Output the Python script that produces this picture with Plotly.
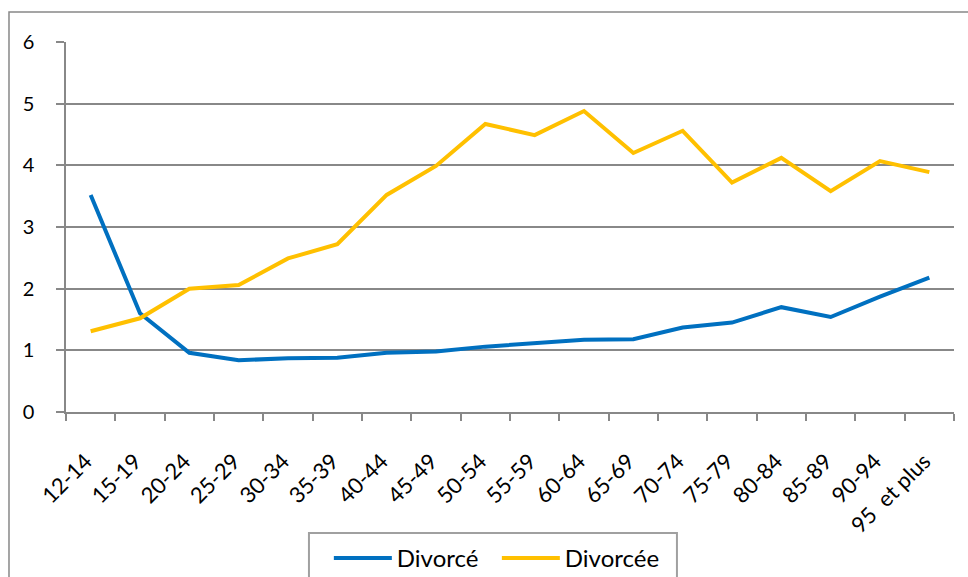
import plotly.graph_objects as go

categories = ["12-14", "15-19", "20-24", "25-29", "30-34", "35-39", "40-44", "45-49",
              "50-54", "55-59", "60-64", "65-69", "70-74", "75-79", "80-84", "85-89",
              "90-94", "95  et plus"]
divorce = [3.52, 1.60, 0.96, 0.84, 0.87, 0.88, 0.96, 0.98, 1.06, 1.11, 1.17, 1.18,
           1.37, 1.45, 1.70, 1.54, 1.87, 2.18]
divorcee = [1.31, 1.52, 2.00, 2.06, 2.49, 2.72, 3.52, 3.99, 4.67, 4.49, 4.88, 4.20,
            4.56, 3.72, 4.12, 3.58, 4.07, 3.89]
y_ticks = [0, 1, 2, 3, 4, 5, 6]

FONT = "Lato, Open Sans, sans-serif"

fig = go.Figure()
fig.add_trace(go.Scatter(x=categories, y=divorce, mode="lines", name="Divorcé",
                         line=dict(color="#0070C0", width=4)))
fig.add_trace(go.Scatter(x=categories, y=divorcee, mode="lines", name="Divorcée",
                         line=dict(color="#FFC000", width=4)))

fig.update_layout(
    width=968, height=577,
    margin=dict(l=66, r=14, t=42, b=165, autoexpand=False),
    paper_bgcolor="white", plot_bgcolor="white",
    font=dict(family=FONT, size=20, color="#000000"),
    showlegend=True,
    legend=dict(orientation="h", x=0.296, xanchor="left", y=-0.335, yanchor="top",
                borderwidth=0, bgcolor="rgba(0,0,0,0)", font=dict(size=24),
                itemwidth=58, entrywidth=95),
    xaxis=dict(type="category", showgrid=False, showline=True, linecolor="#888888",
               linewidth=1.5, ticks="outside", tickson="boundaries", ticklen=7,
               tickcolor="#888888", tickwidth=1.5, tickangle=-45, tickfont=dict(size=22),
               ticklabelstandoff=26, ticklabelshift=-5,
               range=[-0.5, len(categories) - 0.5], automargin=False),
    yaxis=dict(range=[0, 6], tickvals=y_ticks, showgrid=True, gridcolor="#888888",
               gridwidth=1.5, showline=True, linecolor="#888888", linewidth=1.5,
               ticks="outside", ticklen=8, tickcolor="#888888", tickwidth=1.5,
               zeroline=False, ticklabelstandoff=18, tickfont=dict(size=20),
               automargin=False),
    shapes=[
        dict(type="rect", xref="paper", yref="paper", x0=-0.0642, x1=1.02,
             y0=-0.6, y1=1.081, line=dict(color="#888888", width=1.5),
             fillcolor="rgba(0,0,0,0)", layer="below"),
        dict(type="rect", xref="paper", yref="paper", x0=0.2736, x1=0.688,
             y0=-0.6, y1=-0.327, line=dict(color="#A0A0A0", width=2),
             fillcolor="rgba(0,0,0,0)", layer="below"),
    ],
)

fig.write_html("out.html", post_script="document.body.style.margin='0';",
               config={"displayModeBar": False})
